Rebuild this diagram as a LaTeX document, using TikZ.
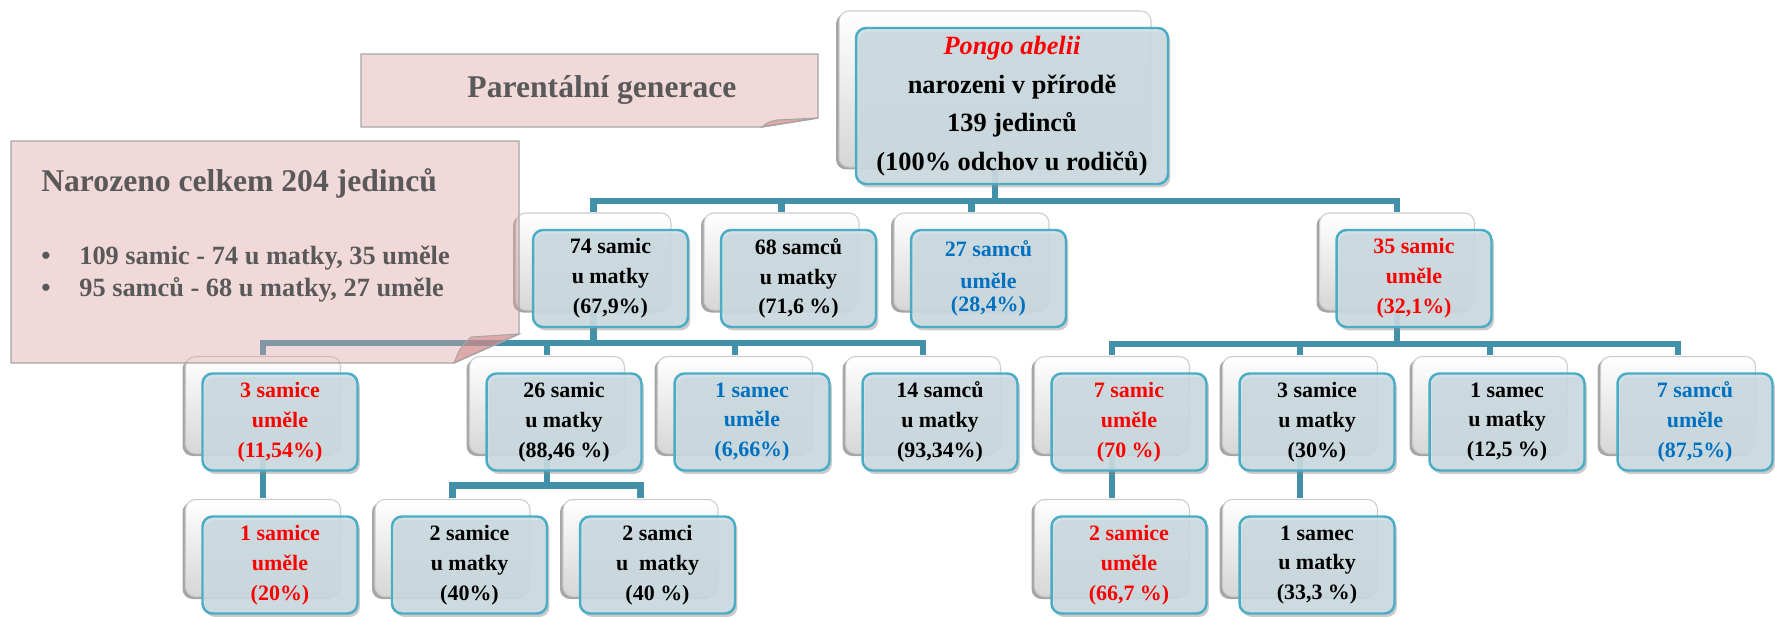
\documentclass[tikz,border=0pt]{standalone}
\usepackage{fontspec}
\setmainfont{Liberation Serif}
\usetikzlibrary{calc,shadows,backgrounds}

\definecolor{vypln}{RGB}{205,222,228}
\definecolor{okraj}{RGB}{75,172,198}
\definecolor{linka}{RGB}{66,145,168}
\definecolor{ruzova}{RGB}{222,160,160}
\definecolor{ohyb}{RGB}{205,130,130}
\definecolor{sedy}{RGB}{89,89,89}
\definecolor{cervena}{RGB}{255,0,0}
\definecolor{modra}{RGB}{0,112,192}

\tikzset{
    karta/.style = {
        rectangle, rounded corners = 0.2cm, align = center,
        draw = okraj, line width = 1.4pt, fill = vypln,
        fill opacity = 0.85, text opacity = 1, inner sep = 0pt,
        minimum width = 3.1cm, minimum height = 1.94cm,
        font = \fontsize{12.5}{17}\selectfont\bfseries,
        general shadow = {shadow xshift = -0.40cm, shadow yshift = 0.29cm,
            fill = black!35, draw = none, fill opacity = 1},
        general shadow = {shadow xshift = -0.34cm, shadow yshift = 0.34cm,
            top color = white, middle color = white, bottom color = black!16,
            draw = black!20, line width = 0.6pt, fill opacity = 1},
        drop shadow = {shadow xshift = 0.05cm, shadow yshift = -0.07cm,
            fill = black!45, opacity = 0.45}
    },
    koren/.style = {karta, minimum width = 6.24cm, minimum height = 3.12cm,
        font = \fontsize{15}{22}\selectfont\bfseries},
    umela/.style = {karta, text = cervena},
    umely/.style = {karta, text = modra},
    spoj/.style = {draw = linka, line width = 0.13cm},
    list/.style = {draw = black!35, fill = ruzova, fill opacity = 0.4, line width = 0.8pt},
    ohyb/.style = {draw = black!35, fill = ohyb, fill opacity = 0.55, line width = 0.6pt},
    popis/.style = {text = sedy, inner sep = 0pt, font = \fontsize{15}{19}\selectfont\bfseries}
}

\begin{document}
\begin{tikzpicture}[x = 0.02cm, y = -0.02cm]
    \useasboundingbox (0, 0) rectangle (1775, 616);

    % rodice
    \node [koren] (koren) at (1012, 106)
        {{\color{cervena}\itshape Pongo abelii}\\ narozeni v přírodě\\ 139 jedinců\\ (100\% odchov u rodičů)};

    % prvni generace
    \node [karta] (s74) at (610.5, 278.5) {74 samic\\ u matky\\ (67,9\%)};
    \node [karta] (m68) at (798.5, 278.5) {68 samců\\ u matky\\ (71,6 \%)};
    \node [umely] (m27) at (988.5, 278.5) {27 samců\\[0.04cm] uměle\\[-0.14cm] (28,4\%)};
    \node [umela] (s35) at (1414, 278.5) {35 samic\\ uměle\\ (32,1\%)};

    % druha generace
    \node [umela] (s3) at (280, 422) {3 samice\\ uměle\\ (11,54\%)};
    \node [karta] (s26) at (564, 422) {26 samic\\ u matky\\ (88,46 \%)};
    \node [umely] (m1) at (752, 422) {1 samec\\ uměle\\ (6,66\%)};
    \node [karta] (m14) at (940, 422) {14 samců\\ u matky\\ (93,34\%)};
    \node [umela] (s7) at (1129, 422) {7 samic\\ uměle\\ (70 \%)};
    \node [karta] (s3b) at (1317, 422) {3 samice\\ u matky\\ (30\%)};
    \node [karta] (m1b) at (1507, 422) {1 samec\\ u matky\\ (12,5 \%)};
    \node [umely] (m7) at (1695, 422) {7 samců\\ uměle\\ (87,5\%)};

    % treti generace
    \node [umela] (s1) at (280, 565) {1 samice\\ uměle\\ (20\%)};
    \node [karta] (s2) at (469.5, 565) {2 samice\\ u matky\\ (40\%)};
    \node [karta] (m2) at (657.5, 565) {2 samci\\ u\ \ matky\\ (40 \%)};
    \node [umela] (s2b) at (1129, 565) {2 samice\\ uměle\\ (66,7 \%)};
    \node [karta] (m1c) at (1317, 565) {1 samec\\ u matky\\ (33,3 \%)};

    \begin{scope}[on background layer]
        \foreach \d in {s74, m68, m27, s35}
            \draw [spoj] ($(koren.center) + (-17, -17)$) -- ($(koren.south) + (-17, 16)$) -| ($(\d.north) + (-17, -17)$);
        \foreach \d in {s3, s26, m1, m14}
            \draw [spoj] ($(s74.center) + (-17, -17)$) -- ($(s74.south) + (-17, 15)$) -| ($(\d.north) + (-17, -17)$);
        \foreach \d in {s7, s3b, m1b, m7}
            \draw [spoj] ($(s35.center) + (-17, -17)$) -- ($(s35.south) + (-17, 16)$) -| ($(\d.north) + (-17, -17)$);
        \foreach \d in {s2, m2}
            \draw [spoj] ($(s26.center) + (-17, -17)$) -- ($(s26.south) + (-17, 14)$) -| ($(\d.north) + (-17, -17)$);
        \draw [spoj] ($(s3.center) + (-17, -17)$) -- ($(s1.north) + (-17, -17)$);
        \draw [spoj] ($(s7.center) + (-17, -17)$) -- ($(s2b.north) + (-17, -17)$);
        \draw [spoj] ($(s3b.center) + (-17, -17)$) -- ($(m1c.north) + (-17, -17)$);
    \end{scope}

    % listky
    \draw [list] (361, 54) -- (818, 54) -- (818, 118) -- (762, 127) -- (361, 127) -- cycle;
    \draw [ohyb] (762, 127) .. controls (768, 122) .. (777, 120) -- (818, 118) -- cycle;
    \node [popis, font = \fontsize{18}{22}\selectfont\bfseries] (generace) at (602, 90) {Parentální generace};

    \draw [list] (11, 141) -- (519, 141) -- (519, 334) -- (454, 363) -- (11, 363) -- cycle;
    \draw [ohyb] (454, 363) .. controls (460, 348) .. (471, 337) -- (519, 334) -- cycle;
    \node [popis, anchor = base west, font = \fontsize{18}{22}\selectfont\bfseries] (celkem) at (41, 191) {Narozeno celkem 204 jedinců};
    \node [popis, anchor = base] (tecka1) at (46, 264) {•};
    \node [popis, anchor = base west] (samice) at (79, 264) {109 samic - 74 u matky, 35 uměle};
    \node [popis, anchor = base] (tecka2) at (46, 296) {•};
    \node [popis, anchor = base west] (samci) at (79, 296) {95 samců - 68 u matky, 27 uměle};
\end{tikzpicture}
\end{document}
